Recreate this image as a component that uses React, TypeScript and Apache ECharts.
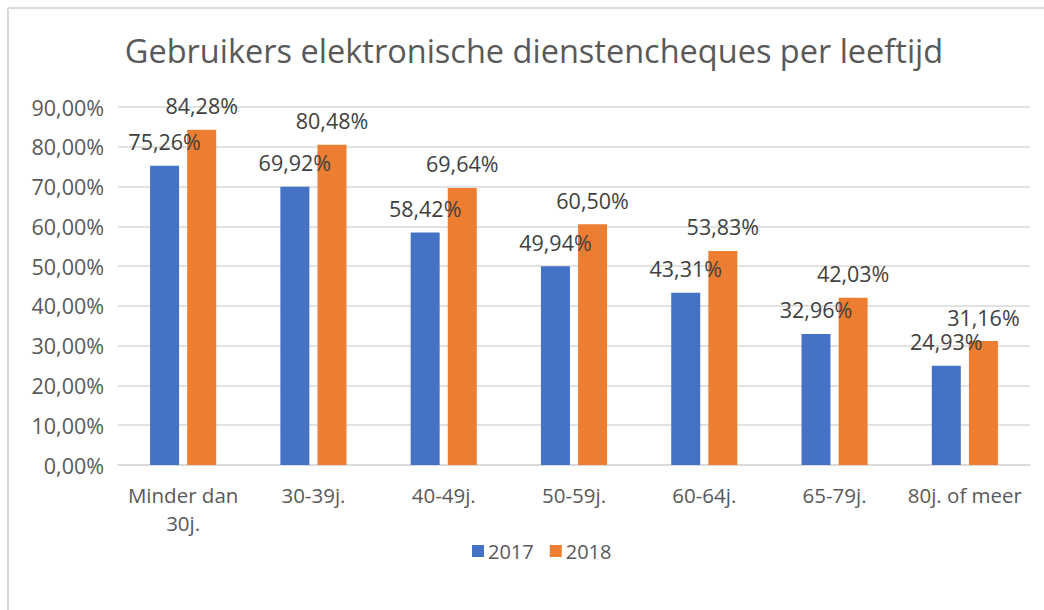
import React, { useEffect, useRef } from "react";
import * as echarts from "echarts";

const categories = ["Minder dan\n30j.", "30-39j.", "40-49j.", "50-59j.", "60-64j.", "65-79j.", "80j. of meer"];
const values2017 = [75.26, 69.92, 58.42, 49.94, 43.31, 32.96, 24.93];
const values2018 = [84.28, 80.48, 69.64, 60.5, 53.83, 42.03, 31.16];
const seriesNames = ["2017", "2018"];
const titleText = "Gebruikers elektronische dienstencheques per leeftijd";

const fmt = (v: number) => v.toFixed(2).replace(".", ",") + "%";
const FONT = "Open Sans";
const TXT = "#595959";
const FS = 21.5;

export default function App() {
  const ref = useRef<HTMLDivElement>(null);
  useEffect(() => {
    if (!ref.current) return;
    const chart = echarts.init(ref.current, undefined, { renderer: "svg" });
    const lbl = {
      show: true,
      position: "top",
      distance: 13,
      color: "#404040",
      fontSize: FS,
      fontFamily: FONT,
      formatter: (p: any) => fmt(p.value),
    };
    chart.setOption({
      animation: false,
      textStyle: { fontFamily: FONT },
      title: {
        text: titleText,
        left: 529,
        top: 29,
        textAlign: "center",
        textStyle: { fontFamily: FONT, fontSize: 32.5, fontWeight: "normal", color: TXT },
      },
      legend: {
        data: seriesNames,
        left: 467,
        top: 536,
        itemWidth: 12,
        itemHeight: 12,
        itemGap: 16,
        icon: "rect",
        textStyle: { fontFamily: FONT, fontSize: 20, color: TXT, padding: [0, 0, 0, -1] },
      },
      grid: { left: 118, right: 14, top: 107, bottom: 145, containLabel: false },
      xAxis: {
        type: "category",
        data: categories,
        axisLine: { lineStyle: { color: "#d9d9d9", width: 1.5 } },
        axisTick: { show: false },
        axisLabel: { color: TXT, fontSize: 20.5, fontFamily: FONT, margin: 16, lineHeight: 28, interval: 0 },
      },
      yAxis: {
        type: "value",
        min: 0,
        max: 90,
        interval: 10,
        axisLine: { show: false },
        axisTick: { show: false },
        splitLine: { lineStyle: { color: "#d9d9d9", width: 1.5 } },
        axisLabel: { color: TXT, fontSize: FS, fontFamily: FONT, margin: 14, formatter: (v: number) => fmt(v) },
      },
      series: [
        {
          name: seriesNames[0],
          type: "bar",
          data: values2017,
          barWidth: 29,
          barGap: "28%",
          itemStyle: { color: "#4472C4" },
          label: lbl,
        },
        {
          name: seriesNames[1],
          type: "bar",
          data: values2018,
          barWidth: 29,
          barGap: "28%",
          itemStyle: { color: "#ED7D31" },
          label: lbl,
        },
      ],
      graphic: [
        { type: "line", shape: { x1: 8, y1: 8, x2: 1044, y2: 8 }, style: { stroke: "#d9d9d9", lineWidth: 2 } },
        { type: "line", shape: { x1: 8, y1: 8, x2: 8, y2: 610 }, style: { stroke: "#d9d9d9", lineWidth: 2 } },
      ],
    });
    return () => chart.dispose();
  }, []);
  return (
    <div
      ref={ref}
      style={{ position: "fixed", left: 0, top: 0, width: 1044, height: 610, background: "#fff" }}
    />
  );
}
